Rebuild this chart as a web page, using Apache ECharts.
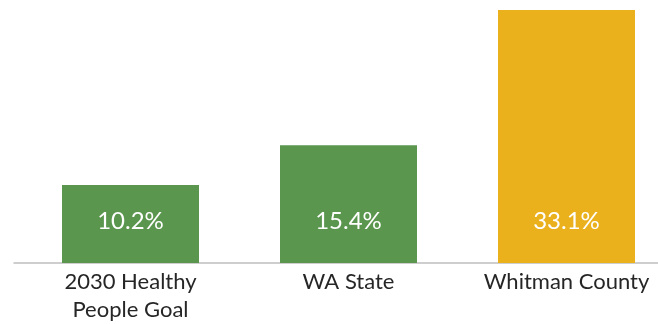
<!DOCTYPE html>
<html>
<head>
<meta charset="utf-8">
<script src="https://cdn.jsdelivr.net/npm/echarts@6/dist/echarts.min.js"></script>
<style>
  html, body { margin: 0; padding: 0; background: #fff; }
  #chart { width: 658px; height: 324px; }
</style>
</head>
<body>
<div id="chart"></div>
<script>
// Share of population by comparison group (percent)
const categories = ['2030 Healthy\nPeople Goal', 'WA State', 'Whitman County'];
const values = [10.2, 15.4, 33.1];
const barColors = ['#5A964E', '#5A964E', '#EAB11D'];

const chart = echarts.init(document.getElementById('chart'));
const fontFamily = 'Lato, "Open Sans", sans-serif';

chart.setOption({
  backgroundColor: '#ffffff',
  animation: false,
  grid: [
    { left: 21.5, width: 654, top: 0, bottom: 61, containLabel: false, outerBoundsMode: 'none' },
    // full-width baseline rule
    { left: 14, right: 0, top: 0, bottom: 61, containLabel: false, outerBoundsMode: 'none' }
  ],
  xAxis: [
    {
      type: 'category',
      gridIndex: 0,
      data: categories,
      axisLine: { show: false },
      axisTick: { show: false },
      axisLabel: {
        color: '#262626',
        fontSize: 22,
        fontFamily: fontFamily,
        lineHeight: 28,
        margin: 5,
        interval: 0
      }
    },
    {
      type: 'value',
      gridIndex: 1,
      min: 0,
      max: 1,
      axisLine: { show: true, lineStyle: { color: '#BFBFBF', width: 1.5 } },
      axisTick: { show: false },
      axisLabel: { show: false },
      splitLine: { show: false }
    }
  ],
  yAxis: [
    { type: 'value', gridIndex: 0, min: 0, max: 34.4, show: false },
    { type: 'value', gridIndex: 1, min: 0, max: 1, show: false }
  ],
  series: [{
    type: 'bar',
    xAxisIndex: 0,
    yAxisIndex: 0,
    barWidth: 137,
    data: values.map((v, i) => ({ value: v, itemStyle: { color: barColors[i] } })),
    label: {
      show: true,
      position: 'insideBottom',
      distance: 30,
      color: '#ffffff',
      fontSize: 24,
      fontFamily: fontFamily,
      formatter: p => p.value.toFixed(1) + '%'
    }
  }]
});
</script>
</body>
</html>
